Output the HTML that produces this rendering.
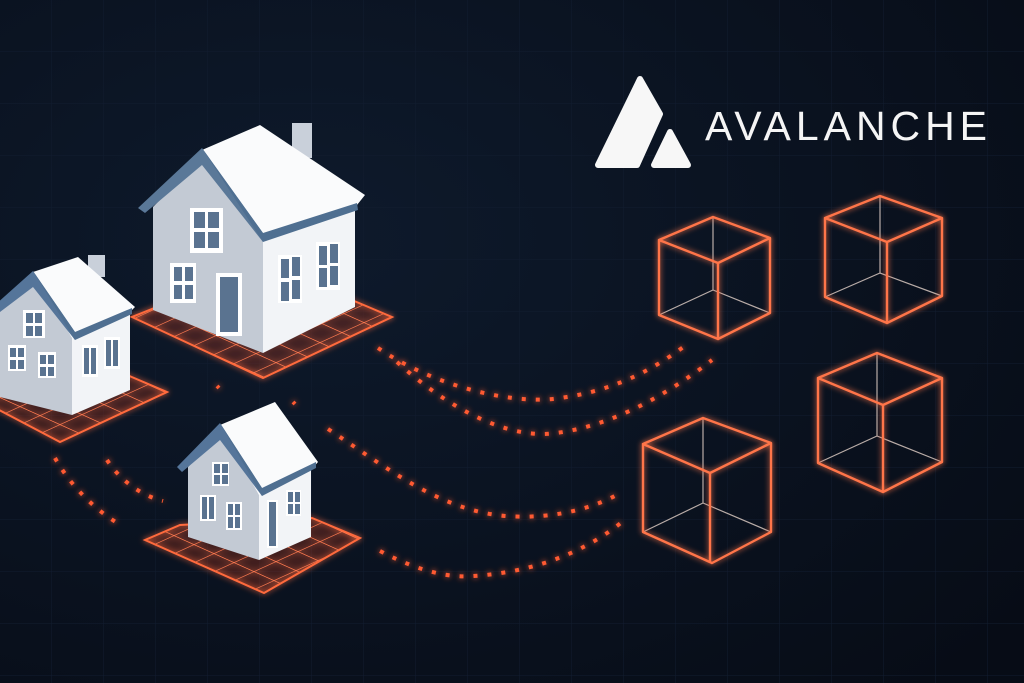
<!DOCTYPE html>
<html><head><meta charset="utf-8"><style>
html,body{margin:0;padding:0;background:#0b1220;}
svg{display:block}
</style></head><body>
<svg width="1024" height="683" viewBox="0 0 1024 683" xmlns="http://www.w3.org/2000/svg">
<defs>
<radialGradient id="bg" cx="0.3" cy="0.35" r="0.9">
<stop offset="0" stop-color="#0e1a2c"/><stop offset="1" stop-color="#070c16"/>
</radialGradient>
<pattern id="grid" width="52" height="52" patternUnits="userSpaceOnUse">
<path d="M52 0V52M0 52H52" stroke="#121d30" stroke-width="1" fill="none"/>
</pattern>
<filter id="glow" x="-20%" y="-20%" width="140%" height="140%">
<feGaussianBlur stdDeviation="3" result="b"/>
<feMerge><feMergeNode in="b"/><feMergeNode in="SourceGraphic"/></feMerge>
</filter>
<pattern id="tile" width="20" height="20" patternUnits="userSpaceOnUse" patternTransform="matrix(1,0.45,-1.1,0.5,0,0)">
<path d="M20 0V20M0 20H20" stroke="#ff7a50" stroke-width="1.6" fill="none"/>
</pattern>
</defs>
<rect width="1024" height="683" fill="url(#bg)"/>
<rect width="1024" height="683" fill="url(#grid)"/>

<!-- dotted connectors -->
<g fill="none" stroke="#ff5a30" stroke-width="4" stroke-dasharray="4 10" filter="url(#glow)">
<path d="M378 348 C440 390 520 405 560 398 C620 390 660 365 690 342"/>
<path d="M397 362 C450 410 510 440 556 433 C620 425 680 385 712 360"/>
<path d="M328 429 C390 470 440 510 505 516 C560 520 600 505 622 492"/>
<path d="M380 551 C420 572 450 578 473 576 C540 572 590 548 622 522"/>
<path d="M55 458 C70 485 95 510 119 524"/>
<path d="M107 460 C120 480 140 495 163 501"/>
<path d="M217 386 L219 388 M293 402 L295 404"/>
</g>

<!-- bases -->
<g fill="#a8361d" opacity="0.35">
<polygon points="132,317 263,378 392,317 340,295 157,307"/>
<polygon points="-20,400 60,442 167,392 120,372 0,385"/>
<polygon points="145,540 264,593 360,538 312,518 180,525"/>
</g>
<g filter="url(#glow)" stroke="#ff6a3d" stroke-width="2">
<polygon points="132,317 263,378 392,317 340,295 157,307" fill="url(#tile)"/>
<polygon points="-20,400 60,442 167,392 120,372 0,385" fill="url(#tile)"/>
<polygon points="145,540 264,593 360,538 312,518 180,525" fill="url(#tile)"/>
</g>

<!-- big house -->
<g>
<rect x="292" y="123" width="20" height="35" fill="#c9d0da"/>
<polygon points="263,233 355,200 355,307 263,353" fill="#f2f4f7"/>
<polygon points="153,207 202,157 263,233 263,353 153,310" fill="#c3cad4"/>
<polygon points="202,150 260,125 365,195 357,205 263,240" fill="#fafbfc"/>
<polygon points="138,208 202,148 263,233 263,242 202,165 145,213" fill="#5a7898"/>
<polygon points="202,148 263,233 357,203 358,210 263,242" fill="#4f6f91"/>
<g fill="#fff"><rect x="190" y="208" width="33" height="45"/><rect x="170" y="263" width="26" height="40"/><rect x="216" y="273" width="26" height="63"/><rect x="278" y="255" width="24" height="48"/><rect x="316" y="242" width="24" height="48"/></g>
<g fill="#5a7390"><rect x="194" y="212" width="11" height="16"/><rect x="208" y="212" width="11" height="16"/><rect x="194" y="232" width="11" height="16"/><rect x="208" y="232" width="11" height="16"/>
<rect x="174" y="267" width="8" height="14"/><rect x="185" y="267" width="8" height="14"/><rect x="174" y="285" width="8" height="14"/><rect x="185" y="285" width="8" height="14"/>
<rect x="220" y="277" width="18" height="55"/>
<rect x="281" y="259" width="8" height="19"/><rect x="292" y="257" width="8" height="19"/><rect x="281" y="282" width="8" height="19"/><rect x="292" y="280" width="8" height="19"/>
<rect x="319" y="246" width="8" height="19"/><rect x="330" y="244" width="8" height="19"/><rect x="319" y="268" width="8" height="19"/><rect x="330" y="266" width="8" height="19"/></g>
</g>

<!-- small left house -->
<g>
<rect x="88" y="255" width="17" height="22" fill="#c9d0da"/>
<polygon points="72,332 130,310 130,390 72,415" fill="#f2f4f7"/>
<polygon points="0,307 33,280 72,332 72,415 0,397" fill="#c3cad4"/>
<polygon points="33,272 78,257 135,307 128,314 72,338" fill="#fafbfc"/>
<polygon points="-5,305 33,271 75,332 75,340 33,287 0,312" fill="#55759a"/>
<polygon points="33,271 75,332 132,308 132,314 75,340" fill="#4f6f91"/>
<g fill="#fff"><rect x="23" y="310" width="22" height="28"/><rect x="8" y="345" width="18" height="26"/><rect x="38" y="352" width="18" height="26"/><rect x="82" y="345" width="16" height="32"/><rect x="104" y="337" width="16" height="32"/></g>
<g fill="#5a7390"><rect x="26" y="313" width="7" height="10"/><rect x="35" y="313" width="7" height="10"/><rect x="26" y="326" width="7" height="10"/><rect x="35" y="326" width="7" height="10"/>
<rect x="10" y="348" width="6" height="9"/><rect x="18" y="348" width="6" height="9"/><rect x="10" y="360" width="6" height="9"/><rect x="18" y="360" width="6" height="9"/>
<rect x="40" y="355" width="6" height="9"/><rect x="48" y="355" width="6" height="9"/><rect x="40" y="367" width="6" height="9"/><rect x="48" y="367" width="6" height="9"/>
<rect x="84" y="348" width="5" height="26"/><rect x="91" y="348" width="5" height="26"/><rect x="106" y="340" width="5" height="26"/><rect x="113" y="340" width="5" height="26"/></g>
</g>

<!-- bottom house -->
<g>
<polygon points="259,490 311,470 311,537 259,560" fill="#f2f4f7"/>
<polygon points="188,467 220,433 259,490 259,560 188,537" fill="#c3cad4"/>
<polygon points="220,425 275,402 318,462 311,470 259,495" fill="#fafbfc"/>
<polygon points="177,467 220,423 262,488 262,496 220,440 182,472" fill="#55759a"/>
<polygon points="220,423 262,488 316,462 316,468 262,496" fill="#4f6f91"/>
<g fill="#fff"><rect x="212" y="462" width="17" height="24"/><rect x="200" y="495" width="16" height="26"/><rect x="226" y="502" width="16" height="28"/><rect x="267" y="500" width="11" height="48"/><rect x="286" y="490" width="15" height="26"/></g>
<g fill="#5a7390"><rect x="214" y="464" width="6" height="9"/><rect x="222" y="464" width="6" height="9"/><rect x="214" y="475" width="6" height="9"/><rect x="222" y="475" width="6" height="9"/>
<rect x="202" y="497" width="5" height="22"/><rect x="209" y="497" width="5" height="22"/>
<rect x="228" y="504" width="5" height="11"/><rect x="235" y="504" width="5" height="11"/><rect x="228" y="517" width="5" height="11"/><rect x="235" y="517" width="5" height="11"/>
<rect x="269" y="502" width="7" height="44"/>
<rect x="288" y="492" width="5" height="10"/><rect x="295" y="492" width="5" height="10"/><rect x="288" y="504" width="5" height="10"/><rect x="295" y="504" width="5" height="10"/></g>
</g>

<!-- cubes -->
<g fill="none">
<g stroke="#d8c8c0" stroke-width="1.2" opacity="0.85">
<path d="M713 217V290M659 315L713 290L770 313"/>
<path d="M880 196V273M825 297L880 273L942 296"/>
<path d="M877 353V436M818 463L877 436L942 462"/>
<path d="M703 418V503M643 532L703 503L771 532"/>
</g>
<g stroke="#ff7448" stroke-width="2.4" filter="url(#glow)" stroke-linejoin="round">
<path d="M713 217L659 240L718 263L770 238Z M659 240V315L718 339L770 313V238 M718 263V339"/>
<path d="M880 196L825 218L887 242L942 218Z M825 218V297L887 323L942 296V218 M887 242V323"/>
<path d="M877 353L818 378L883 405L942 378Z M818 378V463L883 492L942 462V378 M883 405V492"/>
<path d="M703 418L643 444L710 473L771 443Z M643 444V532L712 563L771 532V443 M710 473V563"/>
</g>
</g>

<!-- logo -->
<g fill="#f7f7f7" stroke="#f7f7f7" stroke-width="6" stroke-linejoin="round">
<polygon points="640,79 660,114 637,165 598,165"/>
<polygon points="670,132 688,165 654,165"/>
</g>
<text x="705" y="140" font-family="Liberation Sans, sans-serif" font-size="41" fill="#f5f5f5" textLength="282" lengthAdjust="spacing">AVALANCHE</text>
</svg>
</body></html>
